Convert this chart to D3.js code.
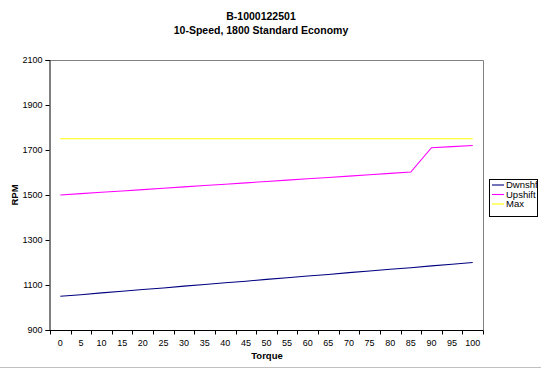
<!DOCTYPE html>
<html>
<head>
<meta charset="utf-8">
<script src="https://cdn.jsdelivr.net/npm/d3@7"></script>
<style>
  html, body { margin: 0; padding: 0; background: #fff; }
  svg { display: block; }
  text { font-family: "Liberation Sans", Arial, sans-serif; }
</style>
</head>
<body>
<svg id="chart" width="542" height="374"></svg>
<script>
const titleLines = ["B-1000122501", "10-Speed, 1800 Standard Economy"];
const xTitle = "Torque";
const yTitle = "RPM";
const torque = [0, 5, 10, 15, 20, 25, 30, 35, 40, 45, 50, 55, 60, 65, 70, 75, 80, 85, 90, 95, 100];
const dwnshft = [1050, 1057, 1065, 1072, 1080, 1087, 1095, 1102, 1110, 1117, 1125, 1132, 1140, 1147, 1155, 1162, 1170, 1177, 1185, 1192, 1200];
const upshift = [1500, 1506, 1512, 1518, 1524, 1530, 1536, 1542, 1548, 1554, 1560, 1566, 1572, 1578, 1584, 1590, 1596, 1602, 1710, 1715, 1720];
const maxRpm = [1750, 1750, 1750, 1750, 1750, 1750, 1750, 1750, 1750, 1750, 1750, 1750, 1750, 1750, 1750, 1750, 1750, 1750, 1750, 1750, 1750];
const yTicks = [900, 1100, 1300, 1500, 1700, 1900, 2100];
const seriesNames = ["Dwnshft", "Upshift", "Max"];
const seriesColors = ["#000080", "#ff00ff", "#ffff00"];

const svg = d3.select("#chart");
const plot = { left: 50, right: 483, top: 60, bottom: 330 };

const x = d3.scaleBand().domain(torque).range([plot.left, plot.right]).paddingInner(0).paddingOuter(0);
const y = d3.scaleLinear().domain([900, 2100]).range([plot.bottom, plot.top]);

// outer chart border (bottom visible)
svg.append("line").attr("x1", 0).attr("x2", 541).attr("y1", 367.5).attr("y2", 367.5)
  .attr("stroke", "#c0c0c0").attr("stroke-width", 1);

// plot area border (top & right gray)
svg.append("path")
  .attr("d", `M${plot.left},${plot.top + 0.5}H${plot.right + 0.5}V${plot.bottom}`)
  .attr("fill", "none").attr("stroke", "#808080").attr("stroke-width", 1);

// Y axis
const yAxis = d3.axisLeft(y).tickValues(yTicks).tickSize(4).tickPadding(3).tickFormat(d3.format("d"));
const gy = svg.append("g").attr("transform", `translate(${plot.left - 0.5},0)`).call(yAxis);
gy.select(".domain").attr("stroke", "#000");
gy.selectAll(".tick line").attr("stroke", "#000");
gy.selectAll("text").attr("font-size", 9).attr("fill", "#000");

// X axis: labels at band centers, ticks at band boundaries
const xAxis = d3.axisBottom(x).tickSize(0).tickPadding(9);
const gx = svg.append("g").attr("transform", `translate(0,${plot.bottom + 0.5})`).call(xAxis);
gx.select(".domain").attr("stroke", "#000").attr("d", `M${plot.left - 0.5},0H${plot.right + 0.5}`);
gx.selectAll("text").attr("font-size", 9).attr("fill", "#000");
const bounds = torque.map(d => x(d)).concat([x(torque[torque.length - 1]) + x.bandwidth()]);
gx.selectAll(".bt").data(bounds).enter().append("line")
  .attr("x1", d => Math.round(d) + 0.5).attr("x2", d => Math.round(d) + 0.5)
  .attr("y1", 0).attr("y2", 4).attr("stroke", "#000");

// lines
const series = [dwnshft, upshift, maxRpm];
const line = d3.line().x((d, i) => x(torque[i]) + x.bandwidth() / 2).y(d => y(d));
[2, 1, 0].forEach(k => {
  svg.append("path").datum(series[k]).attr("d", line)
    .attr("fill", "none").attr("stroke", seriesColors[k]).attr("stroke-width", 1.1);
});

// titles
svg.append("text").attr("x", 261).attr("y", 20).attr("text-anchor", "middle")
  .attr("font-size", 10.5).attr("font-weight", "bold").text(titleLines[0]);
svg.append("text").attr("x", 261).attr("y", 34).attr("text-anchor", "middle")
  .attr("font-size", 10.5).attr("font-weight", "bold").text(titleLines[1]);
svg.append("text").attr("x", 267).attr("y", 359).attr("text-anchor", "middle")
  .attr("font-size", 9.5).attr("font-weight", "bold").text(xTitle);
svg.append("text").attr("transform", "translate(18,195) rotate(-90)").attr("text-anchor", "middle")
  .attr("font-size", 9.5).attr("font-weight", "bold").text(yTitle);

// legend
const lg = { x: 489, y: 179, w: 48, h: 37 };
svg.append("clipPath").attr("id", "lgclip").append("rect")
  .attr("x", lg.x).attr("y", lg.y).attr("width", lg.w).attr("height", lg.h);
svg.append("rect").attr("x", lg.x + 0.5).attr("y", lg.y + 0.5).attr("width", lg.w).attr("height", lg.h)
  .attr("fill", "#fff").attr("stroke", "#000").attr("stroke-width", 1);
const lgG = svg.append("g").attr("clip-path", "url(#lgclip)");
seriesNames.forEach((n, i) => {
  const yy = 185 + i * 9.5;
  lgG.append("line").attr("x1", lg.x + 3).attr("x2", lg.x + 15).attr("y1", yy).attr("y2", yy)
    .attr("stroke", seriesColors[i]).attr("stroke-width", 1.1);
  lgG.append("text").attr("x", lg.x + 17).attr("y", yy + 3.3).attr("font-size", 9.5).text(n);
});
// redraw legend right border over clipped text
svg.append("line").attr("x1", lg.x + lg.w + 0.5).attr("x2", lg.x + lg.w + 0.5)
  .attr("y1", lg.y).attr("y2", lg.y + lg.h + 1).attr("stroke", "#000");
</script>
</body>
</html>
